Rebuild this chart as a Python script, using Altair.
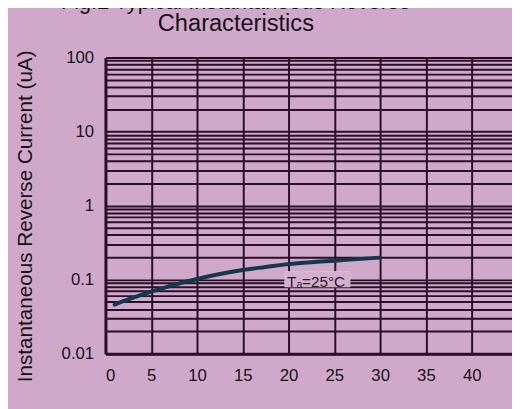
import altair as alt
import pandas as pd

# ---- data ----
voltage_pct = [1, 2.5, 5, 7.5, 10, 12.5, 15, 17.5, 20, 22.5, 25, 27.5, 30]
reverse_current = [0.046, 0.054, 0.0687, 0.085, 0.102, 0.119, 0.135, 0.148,
                   0.162, 0.172, 0.180, 0.189, 0.198]

x_ticks = [0, 5, 10, 15, 20, 25, 30, 35, 40]
y_decades = [0.01, 0.1, 1, 10]
y_multipliers = [1, 2, 3, 4, 5, 6, 7, 8, 9]
y_ticks = sorted([round(d * m, 6) for d in y_decades for m in y_multipliers] + [100])

label_x = [23.0]
label_y = [0.094]
label_text = ["Tₐ=25°C"]
box_x = [19.6, 26.7]
box_y = [0.080, 0.128]

BG = "#D0A9CA"
GRID = "#2A0D27"
INK = "#161016"
FONT = "Liberation Sans"

curve_df = pd.DataFrame({"v": voltage_pct, "i": reverse_current})
label_df = pd.DataFrame({"v": label_x, "i": label_y, "t": label_text})
box_df = pd.DataFrame({"v": [box_x[0]], "v2": [box_x[1]], "i": [box_y[0]], "i2": [box_y[1]]})

x_scale = alt.Scale(domain=[0, 44.4], nice=False, zero=False)
y_scale = alt.Scale(type="log", domain=[0.01, 100], nice=False)

x_axis = alt.Axis(
    values=x_ticks, grid=True, gridColor=GRID, gridWidth=2, gridOpacity=1,
    tickSize=0, labelPadding=14, labelFontSize=17, labelFont=FONT, labelColor=INK,
    domainColor=GRID, domainWidth=3, labelOverlap=False,
    title="Percent of Rated Peak Reverse Voltage (%)", titleFont=FONT,
    titleFontSize=17, titleFontWeight="normal", titleColor=INK,
    titleY=345, titleBaseline="top",
)
y_axis = alt.Axis(
    values=y_ticks, format="~g",
    labelExpr="abs(log(datum.value)/LN10 - round(log(datum.value)/LN10)) < 0.001 ? datum.label : ''",
    grid=True, gridColor=GRID, gridWidth=2, gridOpacity=1,
    tickSize=0, labelPadding=12, labelFontSize=17, labelFont=FONT, labelColor=INK,
    domainColor=GRID, domainWidth=3, labelOverlap=False,
    title="Instantaneous Reverse Current (uA)", titleFont=FONT, titleFontSize=21,
    titleFontWeight="normal", titleColor=INK, titleAngle=270,
    titleX=-81, titleY=161, titleAlign="center", titleBaseline="middle",
)

curve = alt.Chart(curve_df).mark_line(color="#0E3A4C", strokeWidth=4, interpolate="monotone",
                                      strokeCap="round").encode(
    x=alt.X("v:Q", scale=x_scale, axis=x_axis),
    y=alt.Y("i:Q", scale=y_scale, axis=y_axis),
)

box = alt.Chart(box_df).mark_rect(fill="#D3AECE", stroke="#DCC0D8", strokeWidth=1).encode(
    x=alt.X("v:Q", scale=x_scale, axis=x_axis),
    x2="v2:Q",
    y=alt.Y("i:Q", scale=y_scale, axis=y_axis),
    y2="i2:Q",
)

label = alt.Chart(label_df).mark_text(font=FONT, fontSize=15.5, color="#2A1A2A",
                                      align="center", baseline="middle").encode(
    x=alt.X("v:Q", scale=x_scale, axis=x_axis),
    y=alt.Y("i:Q", scale=y_scale, axis=y_axis),
    text="t:N",
)

chart = alt.layer(box, curve, label).properties(
    width=413,
    height=301,
    autosize=alt.AutoSizeParams(type="none"),
    padding={"left": 99, "top": 47, "right": 0, "bottom": 53},
    background=BG,
    title=alt.TitleParams(
        text="Fig.2 Typical Instantaneous Reverse",
        subtitle="Characteristics",
        font=FONT, subtitleFont=FONT, fontSize=22, subtitleFontSize=24,
        fontWeight="normal", subtitleFontWeight="normal",
        color=INK, subtitleColor=INK,
        anchor="middle", dx=-74, offset=12, subtitlePadding=-2,
    ),
).configure_view(stroke=None, fill=BG)

chart.save("out.html", embed_options={"renderer": "svg", "actions": False})
